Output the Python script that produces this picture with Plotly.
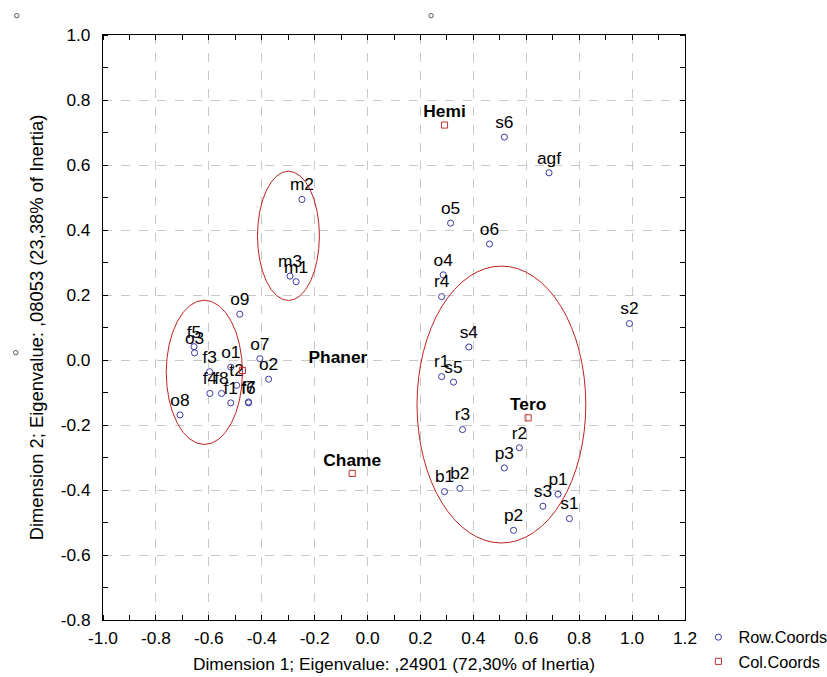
import plotly.graph_objects as go

# Row coordinates
row_labels = ["o9", "f5", "o3", "f3", "o1", "o7", "o2", "t2", "f4", "f8", "f1", "f6", "f7", "o8",
              "m2", "m3", "m1", "s6", "agf", "o5", "o6", "o4", "r4", "s2", "s4", "r1", "s5",
              "r3", "r2", "p3", "b1", "b2", "p1", "s3", "s1", "p2"]
row_x = [-0.483, -0.656, -0.654, -0.597, -0.517, -0.407, -0.374, -0.495, -0.596, -0.552, -0.517, -0.450, -0.450, -0.709,
         -0.248, -0.293, -0.270, 0.517, 0.686, 0.314, 0.461, 0.286, 0.280, 0.990, 0.383, 0.280, 0.325,
         0.359, 0.574, 0.517, 0.291, 0.349, 0.720, 0.663, 0.763, 0.552]
row_y = [0.141, 0.041, 0.022, -0.036, -0.022, 0.004, -0.059, -0.078, -0.103, -0.103, -0.132, -0.132, -0.129, -0.169,
         0.494, 0.258, 0.241, 0.686, 0.576, 0.421, 0.357, 0.262, 0.195, 0.112, 0.040, -0.051, -0.068,
         -0.214, -0.270, -0.332, -0.405, -0.395, -0.413, -0.450, -0.488, -0.524]

# Column coordinates
col_labels = ["Hemi", "Tero", "Chame", "Phaner"]
col_x = [0.291, 0.607, -0.058, -0.473]
col_y = [0.723, -0.178, -0.349, -0.032]
# label anchor positions (Phaner's label was moved away from its point)
col_label_x = [0.291, 0.607, -0.058, -0.112]
col_label_y = [0.723, -0.178, -0.349, 0.005]

# Ellipses: centre x, centre y, radius x, radius y
ell_cx = [-0.617, -0.299, 0.506]
ell_cy = [-0.038, 0.382, -0.137]
ell_rx = [0.144, 0.117, 0.319]
ell_ry = [0.222, 0.199, 0.426]

x_ticks = [-1.0, -0.8, -0.6, -0.4, -0.2, 0.0, 0.2, 0.4, 0.6, 0.8, 1.0, 1.2]
x_ticktext = ["-1.0", "-0.8", "-0.6", "-0.4", "-0.2", "0.0", "0.2", "0.4", "0.6", "0.8", "1.0", "1.2"]
y_ticks = [-0.8, -0.6, -0.4, -0.2, 0.0, 0.2, 0.4, 0.6, 0.8, 1.0]
y_ticktext = ["-0.8", "-0.6", "-0.4", "-0.2", "0.0", "0.2", "0.4", "0.6", "0.8", "1.0"]

FONT = "Liberation Sans, Arial, sans-serif"
BLUE = "#3a3aa0"
RED = "#c03030"

# the photographed page comes out ~2% smaller, so lay out slightly larger
K = 1 / 0.98
W, H = round(827 * K), round(677 * K)
L, T = round(101 * K), round(34 * K)
PW, PH = round(580 * K), round(585 * K)
R, B = W - L - PW, H - T - PH

fig = go.Figure()

fig.add_trace(go.Scatter(
    x=row_x, y=row_y, mode="markers+text", text=row_labels,
    textposition="top center", textfont=dict(family=FONT, size=17 * K, color="black"),
    marker=dict(symbol="circle-open", size=6 * K, color=BLUE, line=dict(width=1)),
    name="Row.Coords", cliponaxis=False,
))
fig.add_trace(go.Scatter(
    x=col_x, y=col_y, mode="markers",
    marker=dict(symbol="square-open", size=6 * K, color=RED, line=dict(width=1)),
    name="Col.Coords",
))
fig.add_trace(go.Scatter(
    x=col_label_x, y=col_label_y, mode="markers+text",
    text=["<b>%s</b>" % t for t in col_labels],
    textposition=["top center", "top center", "top center", "middle center"],
    textfont=dict(family=FONT, size=17 * K, color="black"),
    marker=dict(size=4, opacity=0),
    showlegend=False, hoverinfo="skip",
))

shapes = []
for cx, cy, rx, ry in zip(ell_cx, ell_cy, ell_rx, ell_ry):
    shapes.append(dict(type="circle", xref="x", yref="y",
                       x0=cx - rx, x1=cx + rx, y0=cy - ry, y1=cy + ry,
                       line=dict(color="#c02020", width=1)))
# small stray markers outside the plot (as in the original export)
for px, py in [(15, 15), (428, 15), (14, 352)]:
    fx = (px * K - L) / PW
    fy = (T + PH - py * K) / PH
    shapes.append(dict(type="circle", xref="paper", yref="paper",
                       x0=fx - 0.0038, x1=fx + 0.0038, y0=fy - 0.0038, y1=fy + 0.0038,
                       line=dict(color="#555555", width=1)))

axis_common = dict(
    showline=True, linecolor="black", linewidth=1, mirror="allticks",
    showgrid=True, gridcolor="#c8c8c8", griddash="dash", gridwidth=1,
    zeroline=False, ticks="", tickfont=dict(family=FONT, size=17 * K, color="black"),
    minor=dict(ticks="inside", ticklen=5, tickcolor="black", dtick=0.1, showgrid=False),
    automargin=False,
)

fig.update_layout(
    width=W, height=H,
    margin=dict(l=L, r=R, t=T, b=B),
    paper_bgcolor="white", plot_bgcolor="white",
    font=dict(family=FONT, size=16 * K, color="black"),
    shapes=shapes,
    xaxis=dict(range=[-1.0, 1.2], tickvals=x_ticks, ticktext=x_ticktext, ticklabelstandoff=2,
               title=dict(text="Dimension 1; Eigenvalue: ,24901 (72,30% of Inertia)",
                          font=dict(family=FONT, size=17 * K), standoff=11),
               **axis_common),
    yaxis=dict(range=[-0.8, 1.0], tickvals=y_ticks, ticktext=y_ticktext, ticklabelstandoff=8,
               title=dict(text="Dimension 2; Eigenvalue: ,08053 (23,38% of Inertia)",
                          font=dict(family=FONT, size=18 * K), standoff=12),
               **axis_common),
    legend=dict(x=1.023, y=0.0, xanchor="left", yanchor="top",
                font=dict(family=FONT, size=16 * K), bgcolor="rgba(0,0,0,0)",
                tracegroupgap=0, itemwidth=30),
)

fig.write_html("out.html",
               config=dict(displayModeBar=False),
               post_script=("document.body.style.margin='0';"
                            "document.body.style.overflow='hidden';"))
